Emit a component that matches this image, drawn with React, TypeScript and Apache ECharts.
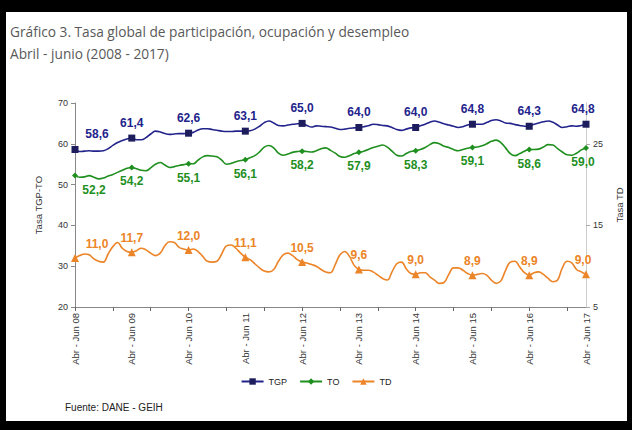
import React, { useEffect, useRef } from "react";
import * as echarts from "echarts";

const MONTHS = ["Ene", "Feb", "Mar", "Abr", "May", "Jun", "Jul", "Ago", "Sep", "Oct", "Nov", "Dic"];
const START_YEAR = 2008;
const N_POINTS = 109;

const categories: string[] = [];
for (let i = 0; i < N_POINTS; i++) {
  const m = (3 + i) % 12;
  const yy = String((START_YEAR + Math.floor((5 + i) / 12)) % 100).padStart(2, "0");
  categories.push(`${MONTHS[m]} - ${MONTHS[(m + 2) % 12]} ${yy}`);
}

const leftTicks = [20, 30, 40, 50, 60, 70];
const rightTicks = [5, 15, 25];

const TGP = [
  58.6, 58.1, 58.2, 58.3, 58.2, 58.2, 58.3, 58.8, 59.6, 60.3, 60.8, 61.2, 61.4,
  61.0, 61.0, 61.5, 62.4, 63.1, 62.9, 62.5, 62.3, 62.4, 62.5, 62.5, 62.6,
  62.8, 63.4, 63.7, 63.7, 63.5, 63.3, 63.1, 63.0, 63.0, 63.1, 63.1, 63.1,
  63.2, 63.6, 64.3, 65.2, 65.6, 65.1, 64.5, 64.4, 64.6, 64.8, 64.9, 65.0,
  64.5, 64.1, 64.4, 64.3, 64.2, 64.1, 63.8, 63.5, 63.6, 63.8, 63.9, 64.0,
  64.2, 64.4, 64.8, 64.7, 64.5, 64.4, 64.0, 63.5, 63.3, 63.6, 63.9, 64.0,
  64.4, 64.8, 65.3, 65.6, 65.3, 64.9, 64.6, 64.3, 64.0, 64.2, 64.6, 64.8,
  64.8, 64.8, 65.2, 65.7, 65.9, 65.6, 65.1, 65.0, 64.7, 64.5, 64.3, 64.3,
  64.8, 65.1, 65.4, 65.6, 65.3, 64.6, 64.0, 64.2, 64.4, 64.3, 64.5, 64.8,
];

const TO = [
  52.2, 51.8, 51.9, 52.2, 51.8, 51.4, 51.6, 52.1, 52.5, 53.0, 53.5, 54.0, 54.2,
  53.9, 53.5, 53.4, 54.1, 55.0, 55.4, 54.8, 54.2, 54.4, 54.7, 54.9, 55.1,
  55.1, 56.0, 56.8, 57.1, 57.0, 56.8, 56.0, 55.0, 55.2, 55.6, 55.9, 56.1,
  56.6, 57.1, 58.0, 59.2, 59.6, 59.0, 57.7, 57.2, 57.5, 57.9, 58.1, 58.2,
  58.1, 58.0, 58.3, 58.8, 59.0, 58.4, 57.7, 56.9, 56.7, 57.1, 57.6, 57.9,
  58.2, 58.6, 59.1, 59.4, 59.7, 59.2, 58.2, 57.2, 57.0, 57.6, 58.1, 58.3,
  58.6, 59.1, 59.8, 60.3, 60.0, 59.4, 59.1, 58.6, 58.3, 58.6, 58.9, 59.1,
  59.2, 59.5, 60.0, 60.6, 60.9, 60.3, 59.0, 57.6, 57.1, 57.6, 58.2, 58.6,
  58.6, 58.7, 59.2, 59.8, 59.7, 58.8, 58.0, 57.3, 57.2, 57.7, 58.5, 59.0,
];

const TD = [
  11.0, 11.3, 11.5, 11.4, 10.9, 10.6, 10.5, 11.5, 12.4, 12.9, 12.2, 11.8, 11.7,
  11.9, 12.2, 12.0, 11.6, 11.3, 11.6, 12.5, 13.0, 12.9, 12.3, 12.1, 12.0,
  12.1, 11.8, 11.2, 10.6, 10.5, 10.6, 11.5, 12.5, 12.6, 12.2, 11.6, 11.1,
  10.8, 10.3, 9.8, 9.4, 9.3, 9.6, 10.6, 11.4, 11.6, 11.3, 10.8, 10.5,
  10.4, 10.2, 10.0, 9.6, 9.3, 9.2, 10.2, 11.4, 11.8, 11.2, 10.1, 9.6,
  9.5, 9.5, 9.3, 8.9, 8.5, 8.3, 9.3, 10.3, 10.5, 9.7, 9.1, 9.0,
  9.2, 9.2, 8.7, 8.3, 7.9, 8.0, 9.0, 9.8, 9.8, 9.5, 9.1, 8.9,
  9.0, 9.1, 8.9, 8.3, 7.9, 8.2, 9.5, 10.5, 10.6, 9.9, 9.2, 8.9,
  9.2, 9.3, 9.0, 8.5, 8.1, 8.3, 9.8, 10.6, 10.4, 9.6, 9.3, 9.0,
];

const COLORS = {
  tgpLine: "#23238c",
  tgpMark: "#1d1d5e",
  to: "#1f8f1f",
  td: "#ec8428",
};

const fmt = (v: number) => v.toFixed(1).replace(".", ",");

function buildData(values: number[], firstOffset: number) {
  return values.map((v, i) => {
    if (i % 12 === 0) {
      const offset = i === 0 ? [firstOffset, 0] : i === values.length - 1 ? [-3, 0] : [0, 0];
      return { value: v, label: { show: true, offset } };
    }
    return { value: v, symbol: "none", label: { show: false } };
  });
}

export default function App() {
  const ref = useRef<HTMLDivElement>(null);

  useEffect(() => {
    if (!ref.current) return;
    const chart = echarts.init(ref.current, undefined, { renderer: "svg" });
    const labelFont = { fontFamily: "Arial, 'Liberation Sans', sans-serif", fontWeight: "bold" as const, fontSize: 12 };
    const axisFont = { fontFamily: "Arial, 'Liberation Sans', sans-serif", fontSize: 9, color: "#333333" };
    chart.setOption({
      animation: false,
      backgroundColor: "#000000",
      graphic: [
        { type: "rect", z: -10, shape: { x: 6, y: 12, width: 621, height: 409 }, style: { fill: "#ffffff" } },
        {
          type: "text", left: 10, top: 24,
          style: { text: "Gráfico 3. Tasa global de participación, ocupación y desempleo", fill: "#595959", font: "13.7px 'Open Sans', sans-serif" },
        },
        {
          type: "text", left: 10, top: 46,
          style: { text: "Abril - junio (2008 - 2017)", fill: "#595959", font: "13.7px 'Open Sans', sans-serif" },
        },
        {
          type: "text", left: 65, top: 402,
          style: { text: "Fuente: DANE - GEIH", fill: "#222222", font: "10px Arial, 'Liberation Sans', sans-serif" },
        },
      ],
      legend: {
        bottom: 39,
        left: "center",
        itemWidth: 22,
        itemHeight: 8,
        itemGap: 12,
        textStyle: { fontFamily: "Arial, 'Liberation Sans', sans-serif", fontSize: 9, color: "#222" },
        data: ["TGP", "TO", "TD"],
      },
      grid: { left: 75, right: 45, top: 103, height: 204 },
      xAxis: {
        type: "category",
        data: categories,
        boundaryGap: false,
        axisLine: { lineStyle: { color: "#888888", width: 1 } },
        axisTick: { show: true, interval: 7, length: 4, lineStyle: { color: "#666666" } },
        axisLabel: { interval: 11, rotate: 90, margin: 6, ...axisFont, fontSize: 9.5 },
      },
      yAxis: [
        {
          type: "value",
          min: leftTicks[0],
          max: leftTicks[leftTicks.length - 1],
          interval: 10,
          name: "Tasa TGP-TO",
          nameLocation: "middle",
          nameRotate: 90,
          nameGap: 32,
          nameTextStyle: { ...axisFont, fontSize: 9.5 },
          splitLine: { show: false },
          axisLine: { show: true, lineStyle: { color: "#888888" } },
          axisTick: { show: true, length: 4, lineStyle: { color: "#888888" } },
          axisLabel: { ...axisFont, margin: 7 },
        },
        {
          type: "value",
          min: 5,
          max: 30,
          interval: 10,
          name: "Tasa TD",
          nameLocation: "middle",
          nameRotate: 90,
          nameGap: 28,
          nameTextStyle: { ...axisFont, fontSize: 9.5 },
          splitLine: { show: false },
          axisLine: { show: true, lineStyle: { color: "#cccccc" } },
          axisTick: { show: true, length: 4, customValues: rightTicks, lineStyle: { color: "#aaaaaa" } },
          axisLabel: { customValues: rightTicks, ...axisFont, margin: 7 },
        },
      ],
      series: [
        {
          name: "TGP",
          type: "line",
          yAxisIndex: 0,
          smooth: 0.4,
          symbol: "rect",
          symbolSize: 7,
          showSymbol: true,
          showAllSymbol: true,
          lineStyle: { color: COLORS.tgpLine, width: 1.6 },
          itemStyle: { color: COLORS.tgpMark },
          label: { position: "top", distance: 6, color: COLORS.tgpLine, formatter: (p: any) => fmt(p.value), ...labelFont },
          data: buildData(TGP, 22),
        },
        {
          name: "TO",
          type: "line",
          yAxisIndex: 0,
          smooth: 0.4,
          symbol: "diamond",
          symbolSize: 6,
          showSymbol: true,
          showAllSymbol: true,
          lineStyle: { color: COLORS.to, width: 1.6 },
          itemStyle: { color: COLORS.to },
          label: { position: "bottom", distance: 5, color: COLORS.to, formatter: (p: any) => fmt(p.value), ...labelFont },
          data: buildData(TO, 19),
        },
        {
          name: "TD",
          type: "line",
          yAxisIndex: 1,
          smooth: 0.4,
          symbol: "triangle",
          symbolSize: 8,
          showSymbol: true,
          showAllSymbol: true,
          lineStyle: { color: COLORS.td, width: 1.6 },
          itemStyle: { color: COLORS.td },
          label: { position: "top", distance: 4, color: COLORS.td, formatter: (p: any) => fmt(p.value), ...labelFont },
          data: buildData(TD, 22),
        },
      ],
    });
    return () => chart.dispose();
  }, []);

  return (
    <div
      ref={ref}
      style={{ position: "fixed", left: 0, top: 0, width: 632, height: 430 }}
    />
  );
}
